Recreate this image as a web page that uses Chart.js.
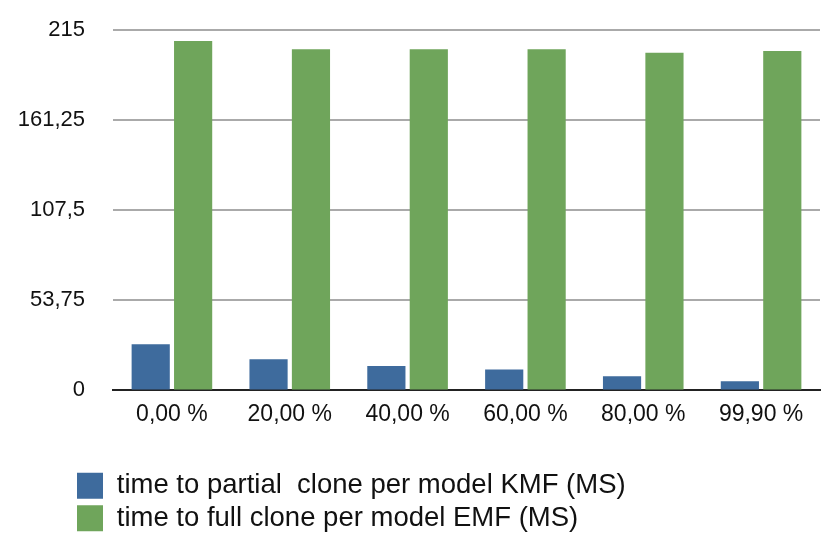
<!DOCTYPE html>
<html>
<head>
<meta charset="utf-8">
<script src="https://cdn.jsdelivr.net/npm/chart.js@4"></script>
<style>
  body { margin: 0; background: #fff; }
  #wrap { width: 822px; height: 548px; position: relative; }
</style>
</head>
<body>
<div id="wrap"><canvas id="barChart"></canvas></div>
<script>
const categories = ['0,00 %', '20,00 %', '40,00 %', '60,00 %', '80,00 %', '99,90 %'];
const partialKMF = [27.5, 18.6, 14.5, 12.5, 8.5, 5.5];
const fullEMF = [208.5, 203.5, 203.5, 203.5, 201.5, 202.5];
const yTickValues = [0, 53.75, 107.5, 161.25, 215];
const yTickLabels = ['0', '53,75', '107,5', '161,25', '215'];

const fontFamily = '"Liberation Sans", Arial, Helvetica, sans-serif';

// push the legend to the right, like the original
const legendShift = {
  id: 'legendShift',
  afterLayout(chart) {
    chart.legend.left += 72;
    chart.legend.right += 72;
  }
};

const ctx = document.getElementById('barChart').getContext('2d');
const barChart = new Chart(ctx, {
  type: 'bar',
  data: {
    labels: categories,
    datasets: [
      {
        label: 'time to partial  clone per model KMF (MS)',
        data: partialKMF,
        backgroundColor: '#3e6b9d',
        categoryPercentage: 0.72,
        barPercentage: 0.9
      },
      {
        label: 'time to full clone per model EMF (MS)',
        data: fullEMF,
        backgroundColor: '#6fa55b',
        categoryPercentage: 0.72,
        barPercentage: 0.9
      }
    ]
  },
  options: {
    responsive: true,
    maintainAspectRatio: false,
    animation: false,
    layout: {
      padding: { top: 30, left: 0, right: 2, bottom: 6 }
    },
    scales: {
      x: {
        grid: { display: false, drawTicks: false },
        border: { color: '#222', width: 2 },
        ticks: {
          color: '#111',
          padding: 10,
          font: { family: fontFamily, size: 23 }
        },
        afterFit: (scale) => { scale.height += 29; }
      },
      y: {
        min: 0,
        max: 215,
        afterBuildTicks: (scale) => {
          scale.ticks = yTickValues.map(v => ({ value: v }));
        },
        afterFit: (scale) => { scale.width = 113; },
        grid: {
          drawTicks: true,
          tickLength: 28,
          tickColor: 'rgba(0,0,0,0)',
          color: (c) => c.tick && c.tick.value === 0 ? '#222' : '#aaaaaa',
          lineWidth: 2
        },
        border: { display: false },
        ticks: {
          color: '#111',
          padding: 0,
          font: { family: fontFamily, size: 22 },
          callback: (value, index) => yTickLabels[index]
        }
      }
    },
    plugins: {
      legend: {
        position: 'bottom',
        align: 'start',
        labels: {
          color: '#111',
          boxWidth: 26,
          boxHeight: 26,
          padding: 5,
          font: { family: fontFamily, size: 27.5 }
        }
      },
      tooltip: { enabled: false }
    }
  },
  plugins: [legendShift]
});
</script>
</body>
</html>
